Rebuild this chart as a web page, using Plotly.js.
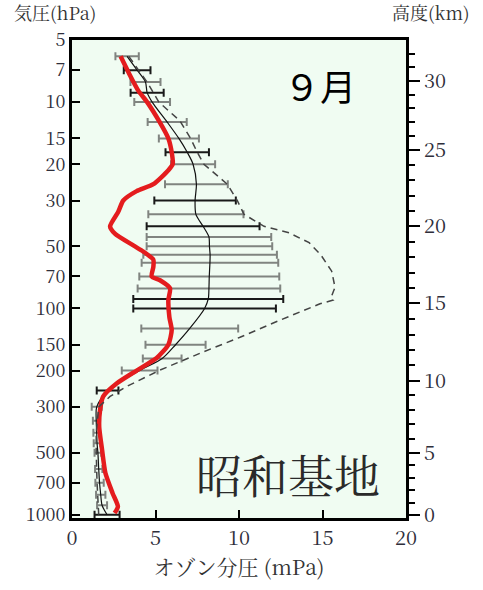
<!DOCTYPE html>
<html>
<head>
<meta charset="utf-8">
<script src="https://cdn.plot.ly/plotly-3.0.1.min.js"></script>
<style>html,body{margin:0;padding:0;background:#fff;}#chart{width:483px;height:590px;}</style>
</head>
<body>
<div id="chart"></div>
<script>
// Pressure levels (hPa) of the climatological mean and its standard deviation
const levels = [6, 7, 8, 9, 10, 12.5, 15, 17.5, 20, 25, 30, 35, 40, 45, 50, 55, 60, 70, 80, 90, 100, 125, 150, 175, 200, 250, 300, 350, 400, 450, 500, 600, 700, 800, 900, 1000];
const meanO3 = [3.3, 3.9, 4.4, 4.5, 4.8, 5.7, 6.4, 6.9, 7.25, 7.45, 7.37, 7.42, 7.85, 8.2, 8.23, 8.27, 8.26, 8.22, 8.2, 8.16, 7.94, 7.05, 6.2, 5.4, 4.05, 2.13, 1.48, 1.45, 1.48, 1.5, 1.55, 1.6, 1.65, 1.72, 1.8, 2.1];
const sdO3   = [0.70, 0.80, 0.9, 0.99, 1.07, 1.17, 1.20, 1.30, 1.32, 1.88, 2.44, 2.85, 3.38, 3.73, 3.76, 4.0, 4.09, 4.19, 4.27, 4.49, 4.27, 2.90, 1.80, 1.16, 1.07, 0.65, 0.30, 0.2, 0.2, 0.2, 0.2, 0.22, 0.25, 0.28, 0.3, 0.75];
const barShade = ['g','k','g','k','g','g','g','k','g','g','k','g','k','g','g','g','g','g','g','k','k','g','g','g','g','k','g','g','g','g','g','g','g','g','g','k'];

// This September's profile (red)
const redP  = [6.0, 7.3, 8.8, 10, 12.3, 15, 17.5, 20, 21.4, 25, 27, 30, 34, 40, 43.4, 49.5, 53, 58, 63, 70, 73, 80, 91, 110, 127, 150, 174, 200, 231, 267, 311, 376, 484, 628, 786, 914, 982];
const redO3 = [2.91, 3.43, 3.97, 4.5, 5.2, 5.77, 5.97, 6.03, 5.77, 4.87, 3.87, 3.07, 2.77, 2.28, 2.57, 3.67, 4.27, 4.87, 4.87, 4.77, 5.27, 5.87, 5.77, 5.83, 5.97, 5.77, 5.07, 3.87, 2.67, 1.87, 1.68, 1.63, 1.80, 2.0, 2.43, 2.75, 2.55];

// Dashed reference profile
const dashP  = [6, 7, 8, 10, 12.3, 15, 17.5, 20, 25, 30, 35, 40, 43, 48, 55, 66, 79, 87, 91, 95, 114, 138, 165, 199, 239, 267, 300, 400, 500, 700, 850, 1000];
const dashO3 = [3.4, 4.0, 4.5, 5.2, 6.45, 7.1, 7.5, 7.9, 9.3, 9.9, 10.3, 11.5, 13.0, 14.2, 14.9, 15.55, 15.75, 15.55, 15.65, 14.85, 12.45, 10.06, 7.66, 5.27, 3.27, 2.28, 1.6, 1.45, 1.45, 1.5, 1.55, 1.6];

// Axis ticks
const pTicks = [5, 7, 10, 15, 20, 30, 50, 70, 100, 150, 200, 300, 500, 700, 1000];
const xTicks = [0, 5, 10, 15, 20];
const altKm = [0,1,2,3,4,5,6,7,8,9,10,11,12,13,14,15,16,17,18,19,20,21,22,23,24,25,26,27,28,29,30,31,32];
const altP  = [1003, 873, 760, 662, 576, 501, 427, 363, 310, 264, 224, 189, 159, 134, 112.5, 94.6, 79.7, 67.0, 56.4, 47.5, 40.0, 33.7, 28.4, 23.9, 20.2, 17.0, 14.6, 12.5, 10.7, 9.2, 7.9, 6.78, 5.82];
const altMajorKm = [0, 5, 10, 15, 20, 25, 30];

const majorP = altMajorKm.map(k => altP[altKm.indexOf(k)]);
const yRange = [Math.log10(1037), Math.log10(5)];

function barTrace(shade, color) {
  const idx = levels.map((_, i) => i).filter(i => barShade[i] === shade);
  return {
    type: 'scatter', mode: 'markers',
    x: idx.map(i => meanO3[i]), y: idx.map(i => levels[i]),
    marker: {size: 1, color: 'rgba(0,0,0,0)'},
    error_x: {type: 'data', array: idx.map(i => sdO3[i]), visible: true, color: color, thickness: 2, width: 4},
    hoverinfo: 'skip', showlegend: false
  };
}

const traces = [
  barTrace('g', 'rgb(128,132,128)'),
  barTrace('k', 'rgb(25,25,25)'),
  {type: 'scatter', mode: 'lines', x: dashO3, y: dashP, yaxis: 'y2',
   line: {color: '#444', width: 1.5, dash: '7px,5px'}, showlegend: false},
  {type: 'scatter', mode: 'lines', x: meanO3, y: levels,
   line: {color: '#111', width: 1.2, shape: 'spline', smoothing: 0.8}, showlegend: false},
  {type: 'scatter', mode: 'lines', x: redO3, y: redP,
   line: {color: 'rgb(228,28,30)', width: 4.5, shape: 'spline', smoothing: 0.6}, showlegend: false}
];

const SERIF = 'Noto Serif CJK JP, Liberation Serif, DejaVu Serif, serif';
const tickFont = {family: SERIF, size: 18, color: '#2e2e3a'};

const layout = {
  width: 483, height: 590,
  margin: {l: 72, r: 77, t: 40, b: 72},
  paper_bgcolor: '#ffffff',
  plot_bgcolor: '#f0fcf2',
  showlegend: false,
  font: {family: SERIF},
  xaxis: {
    range: [0, 20], tickvals: xTicks, ticktext: xTicks.map(String),
    ticks: 'inside', ticklen: 8, tickwidth: 2, tickcolor: '#000',
    showline: true, linewidth: 3, linecolor: '#000', mirror: true,
    showgrid: false, zeroline: false, tickfont: {family: SERIF, size: 20, color: '#2e2e3a'},
    title: {text: 'オゾン分圧 (mPa)', font: {family: SERIF, size: 21, color: '#333'}, standoff: 10}
  },
  yaxis: {
    type: 'log', range: yRange, tickvals: pTicks, ticktext: pTicks.map(String),
    ticks: 'inside', ticklen: 8, tickwidth: 2, tickcolor: '#000',
    showline: true, linewidth: 3, linecolor: '#000', mirror: false,
    showgrid: false, zeroline: false, tickfont: tickFont
  },
  yaxis2: {
    type: 'log', range: yRange, overlaying: 'y', side: 'right', anchor: 'x',
    tickvals: majorP, ticktext: altMajorKm.map(String),
    ticks: 'outside', ticklen: 11, tickwidth: 2, tickcolor: '#000',
    minor: {tickvals: altP, ticks: 'outside', ticklen: 6, tickwidth: 2, tickcolor: '#000', showgrid: false},
    showline: true, linewidth: 3, linecolor: '#000',
    showgrid: false, zeroline: false, tickfont: {family: SERIF, size: 20, color: '#2e2e3a'}
  },
  annotations: [
    {text: '気圧(hPa)', xref: 'paper', yref: 'paper', x: -0.18, y: 1.058, xanchor: 'left', yanchor: 'middle', showarrow: false,
     font: {family: SERIF, size: 18, color: '#333'}},
    {text: '高度(km)', xref: 'paper', yref: 'paper', x: 1.198, y: 1.058, xanchor: 'right', yanchor: 'middle', showarrow: false,
     font: {family: SERIF, size: 18, color: '#333'}},
    {text: '９月', xref: 'paper', yref: 'paper', x: 0.7425, y: 0.906, xanchor: 'center', yanchor: 'middle', showarrow: false,
     font: {family: 'Noto Sans CJK JP, sans-serif', size: 36, color: '#000'}},
    {text: '昭和基地', xref: 'paper', yref: 'paper', x: 0.647, y: 0.094, xanchor: 'center', yanchor: 'middle', showarrow: false,
     font: {family: 'Noto Serif CJK JP, Noto Sans CJK JP, serif', size: 46, color: '#2a2a2a'}}
  ]
};

Plotly.newPlot('chart', traces, layout, {staticPlot: true, displayModeBar: false});
</script>
</body>
</html>
